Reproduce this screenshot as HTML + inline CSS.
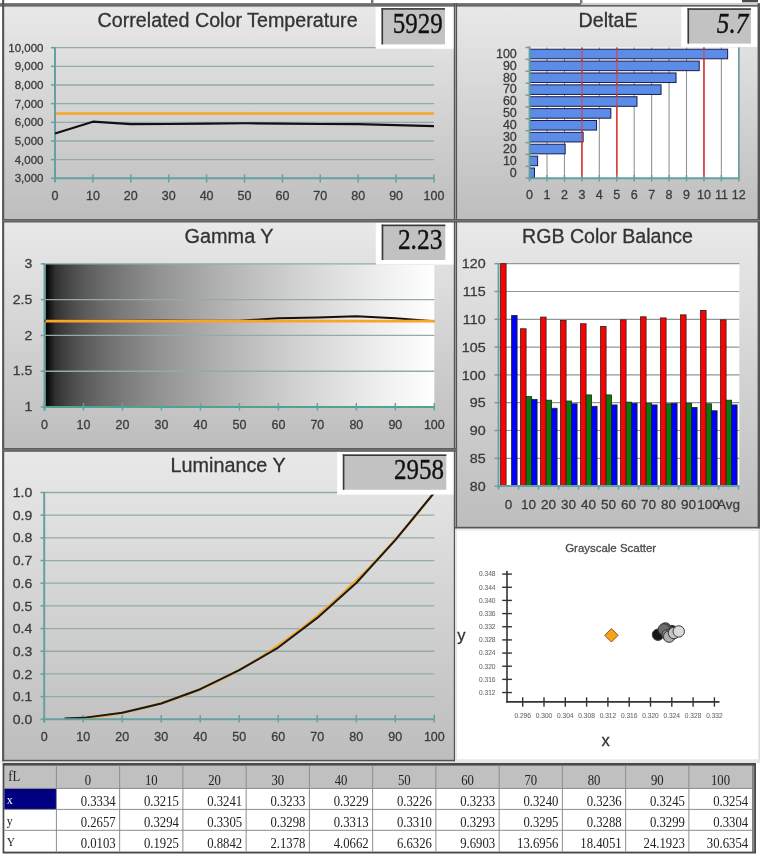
<!DOCTYPE html>
<html><head><meta charset="utf-8"><title>Calibration Charts</title>
<style>html,body{margin:0;padding:0;background:#fff;width:760px;height:858px;overflow:hidden}svg{display:block;filter:blur(0.45px)}</style>
</head><body>
<svg width="760" height="858" viewBox="0 0 760 858"><defs>
<linearGradient id="pg" x1="0" y1="0" x2="0" y2="1"><stop offset="0" stop-color="#e9e9e9"/><stop offset="1" stop-color="#bdbdbd"/></linearGradient>
<linearGradient id="gr" x1="0" y1="0" x2="1" y2="0"><stop offset="0.000" stop-color="rgb(0,0,0)"/><stop offset="0.025" stop-color="rgb(48,48,48)"/><stop offset="0.050" stop-color="rgb(65,65,65)"/><stop offset="0.075" stop-color="rgb(79,79,79)"/><stop offset="0.100" stop-color="rgb(90,90,90)"/><stop offset="0.125" stop-color="rgb(99,99,99)"/><stop offset="0.150" stop-color="rgb(108,108,108)"/><stop offset="0.175" stop-color="rgb(115,115,115)"/><stop offset="0.200" stop-color="rgb(123,123,123)"/><stop offset="0.225" stop-color="rgb(129,129,129)"/><stop offset="0.250" stop-color="rgb(136,136,136)"/><stop offset="0.275" stop-color="rgb(142,142,142)"/><stop offset="0.300" stop-color="rgb(148,148,148)"/><stop offset="0.325" stop-color="rgb(153,153,153)"/><stop offset="0.350" stop-color="rgb(158,158,158)"/><stop offset="0.375" stop-color="rgb(163,163,163)"/><stop offset="0.400" stop-color="rgb(168,168,168)"/><stop offset="0.425" stop-color="rgb(173,173,173)"/><stop offset="0.450" stop-color="rgb(177,177,177)"/><stop offset="0.475" stop-color="rgb(182,182,182)"/><stop offset="0.500" stop-color="rgb(186,186,186)"/><stop offset="0.525" stop-color="rgb(190,190,190)"/><stop offset="0.550" stop-color="rgb(194,194,194)"/><stop offset="0.575" stop-color="rgb(198,198,198)"/><stop offset="0.600" stop-color="rgb(202,202,202)"/><stop offset="0.625" stop-color="rgb(206,206,206)"/><stop offset="0.650" stop-color="rgb(210,210,210)"/><stop offset="0.675" stop-color="rgb(213,213,213)"/><stop offset="0.700" stop-color="rgb(217,217,217)"/><stop offset="0.725" stop-color="rgb(220,220,220)"/><stop offset="0.750" stop-color="rgb(224,224,224)"/><stop offset="0.775" stop-color="rgb(227,227,227)"/><stop offset="0.800" stop-color="rgb(230,230,230)"/><stop offset="0.825" stop-color="rgb(234,234,234)"/><stop offset="0.850" stop-color="rgb(237,237,237)"/><stop offset="0.875" stop-color="rgb(240,240,240)"/><stop offset="0.900" stop-color="rgb(243,243,243)"/><stop offset="0.925" stop-color="rgb(246,246,246)"/><stop offset="0.950" stop-color="rgb(249,249,249)"/><stop offset="0.975" stop-color="rgb(252,252,252)"/><stop offset="1.000" stop-color="rgb(255,255,255)"/></linearGradient>
<clipPath id="lc"><rect x="64.5" y="480" width="380" height="245"/></clipPath>
</defs>
<rect x="0.00" y="0.00" width="760.00" height="858.00" fill="#ffffff" />
<rect x="3.00" y="5.00" width="452.00" height="216.00" fill="url(#pg)" />
<rect x="456.00" y="5.00" width="303.00" height="216.00" fill="url(#pg)" />
<rect x="3.00" y="221.00" width="452.00" height="229.00" fill="url(#pg)" />
<rect x="456.00" y="221.00" width="303.00" height="307.00" fill="url(#pg)" />
<rect x="3.00" y="450.00" width="452.00" height="311.00" fill="url(#pg)" />
<line x1="55.00" y1="159.64" x2="434.00" y2="159.64" stroke="#95aaa7" stroke-width="1.3" />
<line x1="55.00" y1="140.98" x2="434.00" y2="140.98" stroke="#95aaa7" stroke-width="1.3" />
<line x1="55.00" y1="122.32" x2="434.00" y2="122.32" stroke="#95aaa7" stroke-width="1.3" />
<line x1="55.00" y1="103.66" x2="434.00" y2="103.66" stroke="#95aaa7" stroke-width="1.3" />
<line x1="55.00" y1="85.00" x2="434.00" y2="85.00" stroke="#95aaa7" stroke-width="1.3" />
<line x1="55.00" y1="66.34" x2="434.00" y2="66.34" stroke="#95aaa7" stroke-width="1.3" />
<line x1="55.00" y1="47.68" x2="434.00" y2="47.68" stroke="#95aaa7" stroke-width="1.3" />
<line x1="55.00" y1="47.18" x2="55.00" y2="182.00" stroke="#66a0a0" stroke-width="2" />
<line x1="54.00" y1="178.30" x2="434.00" y2="178.30" stroke="#66a0a0" stroke-width="2" />
<line x1="51.00" y1="178.30" x2="55.00" y2="178.30" stroke="#66a0a0" stroke-width="1.5" />
<text x="43.50" y="182.30" font-size="11.5" text-anchor="end" fill="#3c3c3c" font-family="'Liberation Sans', Arial, sans-serif"  stroke="#3c3c3c" stroke-width="0.3">3,000</text>
<line x1="51.00" y1="159.64" x2="55.00" y2="159.64" stroke="#66a0a0" stroke-width="1.5" />
<text x="43.50" y="163.64" font-size="11.5" text-anchor="end" fill="#3c3c3c" font-family="'Liberation Sans', Arial, sans-serif"  stroke="#3c3c3c" stroke-width="0.3">4,000</text>
<line x1="51.00" y1="140.98" x2="55.00" y2="140.98" stroke="#66a0a0" stroke-width="1.5" />
<text x="43.50" y="144.98" font-size="11.5" text-anchor="end" fill="#3c3c3c" font-family="'Liberation Sans', Arial, sans-serif"  stroke="#3c3c3c" stroke-width="0.3">5,000</text>
<line x1="51.00" y1="122.32" x2="55.00" y2="122.32" stroke="#66a0a0" stroke-width="1.5" />
<text x="43.50" y="126.32" font-size="11.5" text-anchor="end" fill="#3c3c3c" font-family="'Liberation Sans', Arial, sans-serif"  stroke="#3c3c3c" stroke-width="0.3">6,000</text>
<line x1="51.00" y1="103.66" x2="55.00" y2="103.66" stroke="#66a0a0" stroke-width="1.5" />
<text x="43.50" y="107.66" font-size="11.5" text-anchor="end" fill="#3c3c3c" font-family="'Liberation Sans', Arial, sans-serif"  stroke="#3c3c3c" stroke-width="0.3">7,000</text>
<line x1="51.00" y1="85.00" x2="55.00" y2="85.00" stroke="#66a0a0" stroke-width="1.5" />
<text x="43.50" y="89.00" font-size="11.5" text-anchor="end" fill="#3c3c3c" font-family="'Liberation Sans', Arial, sans-serif"  stroke="#3c3c3c" stroke-width="0.3">8,000</text>
<line x1="51.00" y1="66.34" x2="55.00" y2="66.34" stroke="#66a0a0" stroke-width="1.5" />
<text x="43.50" y="70.34" font-size="11.5" text-anchor="end" fill="#3c3c3c" font-family="'Liberation Sans', Arial, sans-serif"  stroke="#3c3c3c" stroke-width="0.3">9,000</text>
<line x1="51.00" y1="47.68" x2="55.00" y2="47.68" stroke="#66a0a0" stroke-width="1.5" />
<text x="43.50" y="51.68" font-size="11.5" text-anchor="end" fill="#3c3c3c" font-family="'Liberation Sans', Arial, sans-serif"  stroke="#3c3c3c" stroke-width="0.3">10,000</text>
<line x1="55.00" y1="174.50" x2="55.00" y2="182.50" stroke="#66a0a0" stroke-width="1.5" />
<text transform="translate(55.00,199.60) scale(1.04,1)" font-size="12" text-anchor="middle" fill="#3c3c3c" font-family="'Liberation Sans', Arial, sans-serif"  stroke="#3c3c3c" stroke-width="0.3">0</text>
<line x1="92.90" y1="174.50" x2="92.90" y2="182.50" stroke="#66a0a0" stroke-width="1.5" />
<text transform="translate(92.90,199.60) scale(1.04,1)" font-size="12" text-anchor="middle" fill="#3c3c3c" font-family="'Liberation Sans', Arial, sans-serif"  stroke="#3c3c3c" stroke-width="0.3">10</text>
<line x1="130.80" y1="174.50" x2="130.80" y2="182.50" stroke="#66a0a0" stroke-width="1.5" />
<text transform="translate(130.80,199.60) scale(1.04,1)" font-size="12" text-anchor="middle" fill="#3c3c3c" font-family="'Liberation Sans', Arial, sans-serif"  stroke="#3c3c3c" stroke-width="0.3">20</text>
<line x1="168.70" y1="174.50" x2="168.70" y2="182.50" stroke="#66a0a0" stroke-width="1.5" />
<text transform="translate(168.70,199.60) scale(1.04,1)" font-size="12" text-anchor="middle" fill="#3c3c3c" font-family="'Liberation Sans', Arial, sans-serif"  stroke="#3c3c3c" stroke-width="0.3">30</text>
<line x1="206.60" y1="174.50" x2="206.60" y2="182.50" stroke="#66a0a0" stroke-width="1.5" />
<text transform="translate(206.60,199.60) scale(1.04,1)" font-size="12" text-anchor="middle" fill="#3c3c3c" font-family="'Liberation Sans', Arial, sans-serif"  stroke="#3c3c3c" stroke-width="0.3">40</text>
<line x1="244.50" y1="174.50" x2="244.50" y2="182.50" stroke="#66a0a0" stroke-width="1.5" />
<text transform="translate(244.50,199.60) scale(1.04,1)" font-size="12" text-anchor="middle" fill="#3c3c3c" font-family="'Liberation Sans', Arial, sans-serif"  stroke="#3c3c3c" stroke-width="0.3">50</text>
<line x1="282.40" y1="174.50" x2="282.40" y2="182.50" stroke="#66a0a0" stroke-width="1.5" />
<text transform="translate(282.40,199.60) scale(1.04,1)" font-size="12" text-anchor="middle" fill="#3c3c3c" font-family="'Liberation Sans', Arial, sans-serif"  stroke="#3c3c3c" stroke-width="0.3">60</text>
<line x1="320.30" y1="174.50" x2="320.30" y2="182.50" stroke="#66a0a0" stroke-width="1.5" />
<text transform="translate(320.30,199.60) scale(1.04,1)" font-size="12" text-anchor="middle" fill="#3c3c3c" font-family="'Liberation Sans', Arial, sans-serif"  stroke="#3c3c3c" stroke-width="0.3">70</text>
<line x1="358.20" y1="174.50" x2="358.20" y2="182.50" stroke="#66a0a0" stroke-width="1.5" />
<text transform="translate(358.20,199.60) scale(1.04,1)" font-size="12" text-anchor="middle" fill="#3c3c3c" font-family="'Liberation Sans', Arial, sans-serif"  stroke="#3c3c3c" stroke-width="0.3">80</text>
<line x1="396.10" y1="174.50" x2="396.10" y2="182.50" stroke="#66a0a0" stroke-width="1.5" />
<text transform="translate(396.10,199.60) scale(1.04,1)" font-size="12" text-anchor="middle" fill="#3c3c3c" font-family="'Liberation Sans', Arial, sans-serif"  stroke="#3c3c3c" stroke-width="0.3">90</text>
<line x1="434.00" y1="174.50" x2="434.00" y2="182.50" stroke="#66a0a0" stroke-width="1.5" />
<text transform="translate(434.00,199.60) scale(1.04,1)" font-size="12" text-anchor="middle" fill="#3c3c3c" font-family="'Liberation Sans', Arial, sans-serif"  stroke="#3c3c3c" stroke-width="0.3">100</text>
<line x1="56.00" y1="113.50" x2="434.00" y2="113.50" stroke="#f6a623" stroke-width="2.6" />
<polyline points="55.00,133.57 92.90,121.69 130.80,124.19 168.70,124.00 206.60,123.63 244.50,123.25 282.40,123.63 320.30,124.00 358.20,124.19 396.10,125.12 434.00,126.09" fill="none" stroke="#111" stroke-width="2.2" stroke-linejoin="round"/>
<text x="97.60" y="26.80" font-size="20" text-anchor="start" fill="#333" font-family="'Liberation Sans', Arial, sans-serif" textLength="260" lengthAdjust="spacingAndGlyphs" stroke="#333" stroke-width="0.3">Correlated Color Temperature</text>
<rect x="375.60" y="6.60" width="78.40" height="42.20" fill="#ffffff" />
<rect x="381.50" y="8.10" width="63.50" height="36.30" fill="#c2c2c2" />
<rect x="381.50" y="8.10" width="63.50" height="1.60" fill="#3a3a3a" />
<rect x="381.50" y="8.10" width="1.60" height="36.30" fill="#3a3a3a" />
<text x="442.80" y="32.90" font-size="28.5" text-anchor="end" fill="#111" stroke="#111" stroke-width="0.35" font-family="'Liberation Serif', 'Times New Roman', serif" textLength="50" lengthAdjust="spacingAndGlyphs">5929</text>
<rect x="529.60" y="47.50" width="209.20" height="130.70" fill="#ffffff" />
<line x1="547.03" y1="47.50" x2="547.03" y2="178.20" stroke="#8d9696" stroke-width="1.1" />
<line x1="564.47" y1="47.50" x2="564.47" y2="178.20" stroke="#8d9696" stroke-width="1.1" />
<line x1="599.33" y1="47.50" x2="599.33" y2="178.20" stroke="#8d9696" stroke-width="1.1" />
<line x1="634.20" y1="47.50" x2="634.20" y2="178.20" stroke="#8d9696" stroke-width="1.1" />
<line x1="651.63" y1="47.50" x2="651.63" y2="178.20" stroke="#8d9696" stroke-width="1.1" />
<line x1="669.07" y1="47.50" x2="669.07" y2="178.20" stroke="#8d9696" stroke-width="1.1" />
<line x1="686.50" y1="47.50" x2="686.50" y2="178.20" stroke="#8d9696" stroke-width="1.1" />
<line x1="721.37" y1="47.50" x2="721.37" y2="178.20" stroke="#8d9696" stroke-width="1.1" />
<line x1="738.80" y1="47.50" x2="738.80" y2="178.20" stroke="#8d9696" stroke-width="1.1" />
<line x1="581.90" y1="47.50" x2="581.90" y2="178.20" stroke="#e04040" stroke-width="1.6" />
<line x1="616.77" y1="47.50" x2="616.77" y2="178.20" stroke="#e04040" stroke-width="1.6" />
<line x1="703.93" y1="47.50" x2="703.93" y2="178.20" stroke="#e04040" stroke-width="1.6" />
<rect x="529.60" y="168.02" width="4.88" height="9.58" fill="#5b8de8" stroke="#1c1c4c" stroke-width="1"/>
<rect x="529.60" y="156.14" width="8.02" height="9.58" fill="#5b8de8" stroke="#1c1c4c" stroke-width="1"/>
<rect x="529.60" y="144.25" width="35.56" height="9.58" fill="#5b8de8" stroke="#1c1c4c" stroke-width="1"/>
<rect x="529.60" y="132.37" width="53.52" height="9.58" fill="#5b8de8" stroke="#1c1c4c" stroke-width="1"/>
<rect x="529.60" y="120.49" width="66.94" height="9.58" fill="#5b8de8" stroke="#1c1c4c" stroke-width="1"/>
<rect x="529.60" y="108.61" width="81.24" height="9.58" fill="#5b8de8" stroke="#1c1c4c" stroke-width="1"/>
<rect x="529.60" y="96.73" width="107.39" height="9.58" fill="#5b8de8" stroke="#1c1c4c" stroke-width="1"/>
<rect x="529.60" y="84.85" width="131.45" height="9.58" fill="#5b8de8" stroke="#1c1c4c" stroke-width="1"/>
<rect x="529.60" y="72.96" width="146.44" height="9.58" fill="#5b8de8" stroke="#1c1c4c" stroke-width="1"/>
<rect x="529.60" y="61.08" width="169.63" height="9.58" fill="#5b8de8" stroke="#1c1c4c" stroke-width="1"/>
<rect x="529.60" y="49.20" width="198.04" height="9.58" fill="#5b8de8" stroke="#1c1c4c" stroke-width="1"/>
<line x1="581.90" y1="47.50" x2="581.90" y2="178.20" stroke="#e04040" stroke-width="1.4" stroke-opacity="0.75"/>
<line x1="616.77" y1="47.50" x2="616.77" y2="178.20" stroke="#e04040" stroke-width="1.4" stroke-opacity="0.75"/>
<line x1="703.93" y1="47.50" x2="703.93" y2="178.20" stroke="#e04040" stroke-width="1.4" stroke-opacity="0.75"/>
<line x1="529.60" y1="46.50" x2="529.60" y2="179.20" stroke="#66a0a0" stroke-width="2" />
<line x1="528.60" y1="178.20" x2="739.30" y2="178.20" stroke="#66a0a0" stroke-width="2" />
<line x1="738.80" y1="47.50" x2="738.80" y2="178.20" stroke="#66a0a0" stroke-width="1.5" />
<line x1="525.60" y1="178.20" x2="529.60" y2="178.20" stroke="#66a0a0" stroke-width="1.5" />
<line x1="525.60" y1="166.32" x2="529.60" y2="166.32" stroke="#66a0a0" stroke-width="1.5" />
<line x1="525.60" y1="154.44" x2="529.60" y2="154.44" stroke="#66a0a0" stroke-width="1.5" />
<line x1="525.60" y1="142.55" x2="529.60" y2="142.55" stroke="#66a0a0" stroke-width="1.5" />
<line x1="525.60" y1="130.67" x2="529.60" y2="130.67" stroke="#66a0a0" stroke-width="1.5" />
<line x1="525.60" y1="118.79" x2="529.60" y2="118.79" stroke="#66a0a0" stroke-width="1.5" />
<line x1="525.60" y1="106.91" x2="529.60" y2="106.91" stroke="#66a0a0" stroke-width="1.5" />
<line x1="525.60" y1="95.03" x2="529.60" y2="95.03" stroke="#66a0a0" stroke-width="1.5" />
<line x1="525.60" y1="83.15" x2="529.60" y2="83.15" stroke="#66a0a0" stroke-width="1.5" />
<line x1="525.60" y1="71.26" x2="529.60" y2="71.26" stroke="#66a0a0" stroke-width="1.5" />
<line x1="525.60" y1="59.38" x2="529.60" y2="59.38" stroke="#66a0a0" stroke-width="1.5" />
<line x1="525.60" y1="47.50" x2="529.60" y2="47.50" stroke="#66a0a0" stroke-width="1.5" />
<text x="516.80" y="176.56" font-size="12.5" text-anchor="end" fill="#3c3c3c" font-family="'Liberation Sans', Arial, sans-serif"  stroke="#3c3c3c" stroke-width="0.3">0</text>
<text x="516.80" y="164.68" font-size="12.5" text-anchor="end" fill="#3c3c3c" font-family="'Liberation Sans', Arial, sans-serif"  stroke="#3c3c3c" stroke-width="0.3">10</text>
<text x="516.80" y="152.80" font-size="12.5" text-anchor="end" fill="#3c3c3c" font-family="'Liberation Sans', Arial, sans-serif"  stroke="#3c3c3c" stroke-width="0.3">20</text>
<text x="516.80" y="140.91" font-size="12.5" text-anchor="end" fill="#3c3c3c" font-family="'Liberation Sans', Arial, sans-serif"  stroke="#3c3c3c" stroke-width="0.3">30</text>
<text x="516.80" y="129.03" font-size="12.5" text-anchor="end" fill="#3c3c3c" font-family="'Liberation Sans', Arial, sans-serif"  stroke="#3c3c3c" stroke-width="0.3">40</text>
<text x="516.80" y="117.15" font-size="12.5" text-anchor="end" fill="#3c3c3c" font-family="'Liberation Sans', Arial, sans-serif"  stroke="#3c3c3c" stroke-width="0.3">50</text>
<text x="516.80" y="105.27" font-size="12.5" text-anchor="end" fill="#3c3c3c" font-family="'Liberation Sans', Arial, sans-serif"  stroke="#3c3c3c" stroke-width="0.3">60</text>
<text x="516.80" y="93.39" font-size="12.5" text-anchor="end" fill="#3c3c3c" font-family="'Liberation Sans', Arial, sans-serif"  stroke="#3c3c3c" stroke-width="0.3">70</text>
<text x="516.80" y="81.50" font-size="12.5" text-anchor="end" fill="#3c3c3c" font-family="'Liberation Sans', Arial, sans-serif"  stroke="#3c3c3c" stroke-width="0.3">80</text>
<text x="516.80" y="69.62" font-size="12.5" text-anchor="end" fill="#3c3c3c" font-family="'Liberation Sans', Arial, sans-serif"  stroke="#3c3c3c" stroke-width="0.3">90</text>
<text x="516.80" y="57.74" font-size="12.5" text-anchor="end" fill="#3c3c3c" font-family="'Liberation Sans', Arial, sans-serif"  stroke="#3c3c3c" stroke-width="0.3">100</text>
<line x1="529.60" y1="175.00" x2="529.60" y2="181.50" stroke="#66a0a0" stroke-width="1.5" />
<text x="529.60" y="199.30" font-size="12.5" text-anchor="middle" fill="#3c3c3c" font-family="'Liberation Sans', Arial, sans-serif"  stroke="#3c3c3c" stroke-width="0.3">0</text>
<line x1="547.03" y1="175.00" x2="547.03" y2="181.50" stroke="#66a0a0" stroke-width="1.5" />
<text x="547.03" y="199.30" font-size="12.5" text-anchor="middle" fill="#3c3c3c" font-family="'Liberation Sans', Arial, sans-serif"  stroke="#3c3c3c" stroke-width="0.3">1</text>
<line x1="564.47" y1="175.00" x2="564.47" y2="181.50" stroke="#66a0a0" stroke-width="1.5" />
<text x="564.47" y="199.30" font-size="12.5" text-anchor="middle" fill="#3c3c3c" font-family="'Liberation Sans', Arial, sans-serif"  stroke="#3c3c3c" stroke-width="0.3">2</text>
<line x1="581.90" y1="175.00" x2="581.90" y2="181.50" stroke="#66a0a0" stroke-width="1.5" />
<text x="581.90" y="199.30" font-size="12.5" text-anchor="middle" fill="#3c3c3c" font-family="'Liberation Sans', Arial, sans-serif"  stroke="#3c3c3c" stroke-width="0.3">3</text>
<line x1="599.33" y1="175.00" x2="599.33" y2="181.50" stroke="#66a0a0" stroke-width="1.5" />
<text x="599.33" y="199.30" font-size="12.5" text-anchor="middle" fill="#3c3c3c" font-family="'Liberation Sans', Arial, sans-serif"  stroke="#3c3c3c" stroke-width="0.3">4</text>
<line x1="616.77" y1="175.00" x2="616.77" y2="181.50" stroke="#66a0a0" stroke-width="1.5" />
<text x="616.77" y="199.30" font-size="12.5" text-anchor="middle" fill="#3c3c3c" font-family="'Liberation Sans', Arial, sans-serif"  stroke="#3c3c3c" stroke-width="0.3">5</text>
<line x1="634.20" y1="175.00" x2="634.20" y2="181.50" stroke="#66a0a0" stroke-width="1.5" />
<text x="634.20" y="199.30" font-size="12.5" text-anchor="middle" fill="#3c3c3c" font-family="'Liberation Sans', Arial, sans-serif"  stroke="#3c3c3c" stroke-width="0.3">6</text>
<line x1="651.63" y1="175.00" x2="651.63" y2="181.50" stroke="#66a0a0" stroke-width="1.5" />
<text x="651.63" y="199.30" font-size="12.5" text-anchor="middle" fill="#3c3c3c" font-family="'Liberation Sans', Arial, sans-serif"  stroke="#3c3c3c" stroke-width="0.3">7</text>
<line x1="669.07" y1="175.00" x2="669.07" y2="181.50" stroke="#66a0a0" stroke-width="1.5" />
<text x="669.07" y="199.30" font-size="12.5" text-anchor="middle" fill="#3c3c3c" font-family="'Liberation Sans', Arial, sans-serif"  stroke="#3c3c3c" stroke-width="0.3">8</text>
<line x1="686.50" y1="175.00" x2="686.50" y2="181.50" stroke="#66a0a0" stroke-width="1.5" />
<text x="686.50" y="199.30" font-size="12.5" text-anchor="middle" fill="#3c3c3c" font-family="'Liberation Sans', Arial, sans-serif"  stroke="#3c3c3c" stroke-width="0.3">9</text>
<line x1="703.93" y1="175.00" x2="703.93" y2="181.50" stroke="#66a0a0" stroke-width="1.5" />
<text x="703.93" y="199.30" font-size="12.5" text-anchor="middle" fill="#3c3c3c" font-family="'Liberation Sans', Arial, sans-serif"  stroke="#3c3c3c" stroke-width="0.3">10</text>
<line x1="721.37" y1="175.00" x2="721.37" y2="181.50" stroke="#66a0a0" stroke-width="1.5" />
<text x="721.37" y="199.30" font-size="12.5" text-anchor="middle" fill="#3c3c3c" font-family="'Liberation Sans', Arial, sans-serif"  stroke="#3c3c3c" stroke-width="0.3">11</text>
<line x1="738.80" y1="175.00" x2="738.80" y2="181.50" stroke="#66a0a0" stroke-width="1.5" />
<text x="738.80" y="199.30" font-size="12.5" text-anchor="middle" fill="#3c3c3c" font-family="'Liberation Sans', Arial, sans-serif"  stroke="#3c3c3c" stroke-width="0.3">12</text>
<text x="578.60" y="26.60" font-size="19.5" text-anchor="start" fill="#333" font-family="'Liberation Sans', Arial, sans-serif" textLength="59" lengthAdjust="spacingAndGlyphs" stroke="#333" stroke-width="0.3">DeltaE</text>
<rect x="681.30" y="6.60" width="76.20" height="40.40" fill="#ffffff" />
<rect x="687.50" y="8.30" width="63.40" height="35.30" fill="#c2c2c2" />
<rect x="687.50" y="8.30" width="63.40" height="1.60" fill="#3a3a3a" />
<rect x="687.50" y="8.30" width="1.60" height="35.30" fill="#3a3a3a" />
<text x="748.30" y="32.90" font-size="28.5" text-anchor="end" fill="#111" stroke="#111" stroke-width="0.35" font-family="'Liberation Serif', 'Times New Roman', serif" textLength="31.5" lengthAdjust="spacingAndGlyphs" font-style="italic">5.7</text>
<rect x="45.50" y="263.90" width="388.80" height="143.10" fill="url(#gr)" />
<line x1="44.50" y1="371.23" x2="434.30" y2="371.23" stroke="#95aaa7" stroke-width="1.3" />
<line x1="44.50" y1="335.45" x2="434.30" y2="335.45" stroke="#95aaa7" stroke-width="1.3" />
<line x1="44.50" y1="299.68" x2="434.30" y2="299.68" stroke="#95aaa7" stroke-width="1.3" />
<line x1="44.50" y1="263.90" x2="434.30" y2="263.90" stroke="#95aaa7" stroke-width="1.3" />
<line x1="44.50" y1="263.40" x2="44.50" y2="410.50" stroke="#62a2a0" stroke-width="2" />
<line x1="43.50" y1="407.00" x2="434.30" y2="407.00" stroke="#4fa391" stroke-width="2" />
<line x1="40.80" y1="407.00" x2="44.50" y2="407.00" stroke="#66a0a0" stroke-width="1.5" />
<text transform="translate(32.30,411.20) scale(1.08,1)" font-size="13" text-anchor="end" fill="#3c3c3c" font-family="'Liberation Sans', Arial, sans-serif"  stroke="#3c3c3c" stroke-width="0.3">1</text>
<line x1="40.80" y1="371.23" x2="44.50" y2="371.23" stroke="#66a0a0" stroke-width="1.5" />
<text transform="translate(32.30,375.43) scale(1.08,1)" font-size="13" text-anchor="end" fill="#3c3c3c" font-family="'Liberation Sans', Arial, sans-serif"  stroke="#3c3c3c" stroke-width="0.3">1.5</text>
<line x1="40.80" y1="335.45" x2="44.50" y2="335.45" stroke="#66a0a0" stroke-width="1.5" />
<text transform="translate(32.30,339.65) scale(1.08,1)" font-size="13" text-anchor="end" fill="#3c3c3c" font-family="'Liberation Sans', Arial, sans-serif"  stroke="#3c3c3c" stroke-width="0.3">2</text>
<line x1="40.80" y1="299.68" x2="44.50" y2="299.68" stroke="#66a0a0" stroke-width="1.5" />
<text transform="translate(32.30,303.88) scale(1.08,1)" font-size="13" text-anchor="end" fill="#3c3c3c" font-family="'Liberation Sans', Arial, sans-serif"  stroke="#3c3c3c" stroke-width="0.3">2.5</text>
<line x1="40.80" y1="263.90" x2="44.50" y2="263.90" stroke="#66a0a0" stroke-width="1.5" />
<text transform="translate(32.30,268.10) scale(1.08,1)" font-size="13" text-anchor="end" fill="#3c3c3c" font-family="'Liberation Sans', Arial, sans-serif"  stroke="#3c3c3c" stroke-width="0.3">3</text>
<line x1="44.50" y1="403.00" x2="44.50" y2="410.50" stroke="#66a0a0" stroke-width="1.5" />
<text transform="translate(44.50,428.90) scale(1.04,1)" font-size="12" text-anchor="middle" fill="#3c3c3c" font-family="'Liberation Sans', Arial, sans-serif"  stroke="#3c3c3c" stroke-width="0.3">0</text>
<line x1="83.48" y1="403.00" x2="83.48" y2="410.50" stroke="#66a0a0" stroke-width="1.5" />
<text transform="translate(83.48,428.90) scale(1.04,1)" font-size="12" text-anchor="middle" fill="#3c3c3c" font-family="'Liberation Sans', Arial, sans-serif"  stroke="#3c3c3c" stroke-width="0.3">10</text>
<line x1="122.46" y1="403.00" x2="122.46" y2="410.50" stroke="#66a0a0" stroke-width="1.5" />
<text transform="translate(122.46,428.90) scale(1.04,1)" font-size="12" text-anchor="middle" fill="#3c3c3c" font-family="'Liberation Sans', Arial, sans-serif"  stroke="#3c3c3c" stroke-width="0.3">20</text>
<line x1="161.44" y1="403.00" x2="161.44" y2="410.50" stroke="#66a0a0" stroke-width="1.5" />
<text transform="translate(161.44,428.90) scale(1.04,1)" font-size="12" text-anchor="middle" fill="#3c3c3c" font-family="'Liberation Sans', Arial, sans-serif"  stroke="#3c3c3c" stroke-width="0.3">30</text>
<line x1="200.42" y1="403.00" x2="200.42" y2="410.50" stroke="#66a0a0" stroke-width="1.5" />
<text transform="translate(200.42,428.90) scale(1.04,1)" font-size="12" text-anchor="middle" fill="#3c3c3c" font-family="'Liberation Sans', Arial, sans-serif"  stroke="#3c3c3c" stroke-width="0.3">40</text>
<line x1="239.40" y1="403.00" x2="239.40" y2="410.50" stroke="#66a0a0" stroke-width="1.5" />
<text transform="translate(239.40,428.90) scale(1.04,1)" font-size="12" text-anchor="middle" fill="#3c3c3c" font-family="'Liberation Sans', Arial, sans-serif"  stroke="#3c3c3c" stroke-width="0.3">50</text>
<line x1="278.38" y1="403.00" x2="278.38" y2="410.50" stroke="#66a0a0" stroke-width="1.5" />
<text transform="translate(278.38,428.90) scale(1.04,1)" font-size="12" text-anchor="middle" fill="#3c3c3c" font-family="'Liberation Sans', Arial, sans-serif"  stroke="#3c3c3c" stroke-width="0.3">60</text>
<line x1="317.36" y1="403.00" x2="317.36" y2="410.50" stroke="#66a0a0" stroke-width="1.5" />
<text transform="translate(317.36,428.90) scale(1.04,1)" font-size="12" text-anchor="middle" fill="#3c3c3c" font-family="'Liberation Sans', Arial, sans-serif"  stroke="#3c3c3c" stroke-width="0.3">70</text>
<line x1="356.34" y1="403.00" x2="356.34" y2="410.50" stroke="#66a0a0" stroke-width="1.5" />
<text transform="translate(356.34,428.90) scale(1.04,1)" font-size="12" text-anchor="middle" fill="#3c3c3c" font-family="'Liberation Sans', Arial, sans-serif"  stroke="#3c3c3c" stroke-width="0.3">80</text>
<line x1="395.32" y1="403.00" x2="395.32" y2="410.50" stroke="#66a0a0" stroke-width="1.5" />
<text transform="translate(395.32,428.90) scale(1.04,1)" font-size="12" text-anchor="middle" fill="#3c3c3c" font-family="'Liberation Sans', Arial, sans-serif"  stroke="#3c3c3c" stroke-width="0.3">90</text>
<line x1="434.30" y1="403.00" x2="434.30" y2="410.50" stroke="#66a0a0" stroke-width="1.5" />
<text transform="translate(434.30,428.90) scale(1.04,1)" font-size="12" text-anchor="middle" fill="#3c3c3c" font-family="'Liberation Sans', Arial, sans-serif"  stroke="#3c3c3c" stroke-width="0.3">100</text>
<polyline points="44.50,320.78 83.48,320.78 122.46,320.78 161.44,320.42 200.42,320.78 239.40,320.78 278.38,318.28 317.36,317.56 356.34,316.13 395.32,318.28 434.30,321.14" fill="none" stroke="#111" stroke-width="2" stroke-linejoin="round"/>
<line x1="45.50" y1="321.14" x2="434.30" y2="321.14" stroke="#f6a623" stroke-width="2.6" />
<text x="184.60" y="242.50" font-size="19.5" text-anchor="start" fill="#333" font-family="'Liberation Sans', Arial, sans-serif" textLength="89" lengthAdjust="spacingAndGlyphs" stroke="#333" stroke-width="0.3">Gamma Y</text>
<rect x="375.80" y="222.50" width="78.20" height="42.10" fill="#ffffff" />
<rect x="381.70" y="224.60" width="63.60" height="35.40" fill="#c2c2c2" />
<rect x="381.70" y="224.60" width="63.60" height="1.60" fill="#3a3a3a" />
<rect x="381.70" y="224.60" width="1.60" height="35.40" fill="#3a3a3a" />
<text x="442.40" y="249.20" font-size="28.5" text-anchor="end" fill="#111" stroke="#111" stroke-width="0.35" font-family="'Liberation Serif', 'Times New Roman', serif" textLength="44.5" lengthAdjust="spacingAndGlyphs">2.23</text>
<rect x="498.60" y="263.70" width="240.70" height="222.40" fill="#ffffff" />
<line x1="498.60" y1="458.30" x2="739.30" y2="458.30" stroke="#8e9a99" stroke-width="1.2" />
<line x1="498.60" y1="430.50" x2="739.30" y2="430.50" stroke="#8e9a99" stroke-width="1.2" />
<line x1="498.60" y1="402.70" x2="739.30" y2="402.70" stroke="#8e9a99" stroke-width="1.2" />
<line x1="498.60" y1="374.90" x2="739.30" y2="374.90" stroke="#8e9a99" stroke-width="1.2" />
<line x1="498.60" y1="347.10" x2="739.30" y2="347.10" stroke="#8e9a99" stroke-width="1.2" />
<line x1="498.60" y1="319.30" x2="739.30" y2="319.30" stroke="#8e9a99" stroke-width="1.2" />
<line x1="498.60" y1="291.50" x2="739.30" y2="291.50" stroke="#8e9a99" stroke-width="1.2" />
<line x1="498.60" y1="263.70" x2="739.30" y2="263.70" stroke="#8e9a99" stroke-width="1.2" />
<rect x="500.60" y="263.70" width="5.50" height="222.40" fill="#ff0000" stroke="#222" stroke-width="0.8"/>
<rect x="511.60" y="315.41" width="5.50" height="170.69" fill="#0000ff" stroke="#222" stroke-width="0.8"/>
<rect x="520.60" y="328.75" width="5.50" height="157.35" fill="#ff0000" stroke="#222" stroke-width="0.8"/>
<rect x="526.10" y="396.58" width="5.50" height="89.52" fill="#0a7a0a" stroke="#222" stroke-width="0.8"/>
<rect x="531.60" y="399.36" width="5.50" height="86.74" fill="#0000ff" stroke="#222" stroke-width="0.8"/>
<rect x="540.60" y="317.08" width="5.50" height="169.02" fill="#ff0000" stroke="#222" stroke-width="0.8"/>
<rect x="546.10" y="400.20" width="5.50" height="85.90" fill="#0a7a0a" stroke="#222" stroke-width="0.8"/>
<rect x="551.60" y="408.26" width="5.50" height="77.84" fill="#0000ff" stroke="#222" stroke-width="0.8"/>
<rect x="560.60" y="320.41" width="5.50" height="165.69" fill="#ff0000" stroke="#222" stroke-width="0.8"/>
<rect x="566.10" y="401.03" width="5.50" height="85.07" fill="#0a7a0a" stroke="#222" stroke-width="0.8"/>
<rect x="571.60" y="403.81" width="5.50" height="82.29" fill="#0000ff" stroke="#222" stroke-width="0.8"/>
<rect x="580.60" y="323.75" width="5.50" height="162.35" fill="#ff0000" stroke="#222" stroke-width="0.8"/>
<rect x="586.10" y="394.92" width="5.50" height="91.18" fill="#0a7a0a" stroke="#222" stroke-width="0.8"/>
<rect x="591.60" y="406.31" width="5.50" height="79.79" fill="#0000ff" stroke="#222" stroke-width="0.8"/>
<rect x="600.60" y="326.53" width="5.50" height="159.57" fill="#ff0000" stroke="#222" stroke-width="0.8"/>
<rect x="606.10" y="394.92" width="5.50" height="91.18" fill="#0a7a0a" stroke="#222" stroke-width="0.8"/>
<rect x="611.60" y="404.92" width="5.50" height="81.18" fill="#0000ff" stroke="#222" stroke-width="0.8"/>
<rect x="620.60" y="319.86" width="5.50" height="166.24" fill="#ff0000" stroke="#222" stroke-width="0.8"/>
<rect x="626.10" y="402.14" width="5.50" height="83.96" fill="#0a7a0a" stroke="#222" stroke-width="0.8"/>
<rect x="631.60" y="403.26" width="5.50" height="82.84" fill="#0000ff" stroke="#222" stroke-width="0.8"/>
<rect x="640.60" y="316.80" width="5.50" height="169.30" fill="#ff0000" stroke="#222" stroke-width="0.8"/>
<rect x="646.10" y="403.26" width="5.50" height="82.84" fill="#0a7a0a" stroke="#222" stroke-width="0.8"/>
<rect x="651.60" y="404.92" width="5.50" height="81.18" fill="#0000ff" stroke="#222" stroke-width="0.8"/>
<rect x="660.60" y="317.91" width="5.50" height="168.19" fill="#ff0000" stroke="#222" stroke-width="0.8"/>
<rect x="666.10" y="403.81" width="5.50" height="82.29" fill="#0a7a0a" stroke="#222" stroke-width="0.8"/>
<rect x="671.60" y="403.26" width="5.50" height="82.84" fill="#0000ff" stroke="#222" stroke-width="0.8"/>
<rect x="680.60" y="314.85" width="5.50" height="171.25" fill="#ff0000" stroke="#222" stroke-width="0.8"/>
<rect x="686.10" y="403.26" width="5.50" height="82.84" fill="#0a7a0a" stroke="#222" stroke-width="0.8"/>
<rect x="691.60" y="407.43" width="5.50" height="78.67" fill="#0000ff" stroke="#222" stroke-width="0.8"/>
<rect x="700.60" y="310.40" width="5.50" height="175.70" fill="#ff0000" stroke="#222" stroke-width="0.8"/>
<rect x="706.10" y="403.81" width="5.50" height="82.29" fill="#0a7a0a" stroke="#222" stroke-width="0.8"/>
<rect x="711.60" y="410.76" width="5.50" height="75.34" fill="#0000ff" stroke="#222" stroke-width="0.8"/>
<rect x="720.60" y="319.86" width="5.50" height="166.24" fill="#ff0000" stroke="#222" stroke-width="0.8"/>
<rect x="726.10" y="400.20" width="5.50" height="85.90" fill="#0a7a0a" stroke="#222" stroke-width="0.8"/>
<rect x="731.60" y="404.92" width="5.50" height="81.18" fill="#0000ff" stroke="#222" stroke-width="0.8"/>
<line x1="498.60" y1="263.20" x2="498.60" y2="488.10" stroke="#66a0a0" stroke-width="2" />
<line x1="497.60" y1="486.10" x2="739.30" y2="486.10" stroke="#66a0a0" stroke-width="2" />
<line x1="494.50" y1="486.10" x2="498.60" y2="486.10" stroke="#66a0a0" stroke-width="1.5" />
<text transform="translate(485.60,490.80) scale(1.1,1)" font-size="13" text-anchor="end" fill="#3c3c3c" font-family="'Liberation Sans', Arial, sans-serif"  stroke="#3c3c3c" stroke-width="0.3">80</text>
<line x1="494.50" y1="458.30" x2="498.60" y2="458.30" stroke="#66a0a0" stroke-width="1.5" />
<text transform="translate(485.60,463.00) scale(1.1,1)" font-size="13" text-anchor="end" fill="#3c3c3c" font-family="'Liberation Sans', Arial, sans-serif"  stroke="#3c3c3c" stroke-width="0.3">85</text>
<line x1="494.50" y1="430.50" x2="498.60" y2="430.50" stroke="#66a0a0" stroke-width="1.5" />
<text transform="translate(485.60,435.20) scale(1.1,1)" font-size="13" text-anchor="end" fill="#3c3c3c" font-family="'Liberation Sans', Arial, sans-serif"  stroke="#3c3c3c" stroke-width="0.3">90</text>
<line x1="494.50" y1="402.70" x2="498.60" y2="402.70" stroke="#66a0a0" stroke-width="1.5" />
<text transform="translate(485.60,407.40) scale(1.1,1)" font-size="13" text-anchor="end" fill="#3c3c3c" font-family="'Liberation Sans', Arial, sans-serif"  stroke="#3c3c3c" stroke-width="0.3">95</text>
<line x1="494.50" y1="374.90" x2="498.60" y2="374.90" stroke="#66a0a0" stroke-width="1.5" />
<text transform="translate(485.60,379.60) scale(1.1,1)" font-size="13" text-anchor="end" fill="#3c3c3c" font-family="'Liberation Sans', Arial, sans-serif"  stroke="#3c3c3c" stroke-width="0.3">100</text>
<line x1="494.50" y1="347.10" x2="498.60" y2="347.10" stroke="#66a0a0" stroke-width="1.5" />
<text transform="translate(485.60,351.80) scale(1.1,1)" font-size="13" text-anchor="end" fill="#3c3c3c" font-family="'Liberation Sans', Arial, sans-serif"  stroke="#3c3c3c" stroke-width="0.3">105</text>
<line x1="494.50" y1="319.30" x2="498.60" y2="319.30" stroke="#66a0a0" stroke-width="1.5" />
<text transform="translate(485.60,324.00) scale(1.1,1)" font-size="13" text-anchor="end" fill="#3c3c3c" font-family="'Liberation Sans', Arial, sans-serif"  stroke="#3c3c3c" stroke-width="0.3">110</text>
<line x1="494.50" y1="291.50" x2="498.60" y2="291.50" stroke="#66a0a0" stroke-width="1.5" />
<text transform="translate(485.60,296.20) scale(1.1,1)" font-size="13" text-anchor="end" fill="#3c3c3c" font-family="'Liberation Sans', Arial, sans-serif"  stroke="#3c3c3c" stroke-width="0.3">115</text>
<line x1="494.50" y1="263.70" x2="498.60" y2="263.70" stroke="#66a0a0" stroke-width="1.5" />
<text transform="translate(485.60,268.40) scale(1.1,1)" font-size="13" text-anchor="end" fill="#3c3c3c" font-family="'Liberation Sans', Arial, sans-serif"  stroke="#3c3c3c" stroke-width="0.3">120</text>
<line x1="498.60" y1="486.10" x2="498.60" y2="489.60" stroke="#66a0a0" stroke-width="1.5" />
<line x1="518.60" y1="486.10" x2="518.60" y2="489.60" stroke="#66a0a0" stroke-width="1.5" />
<line x1="538.60" y1="486.10" x2="538.60" y2="489.60" stroke="#66a0a0" stroke-width="1.5" />
<line x1="558.60" y1="486.10" x2="558.60" y2="489.60" stroke="#66a0a0" stroke-width="1.5" />
<line x1="578.60" y1="486.10" x2="578.60" y2="489.60" stroke="#66a0a0" stroke-width="1.5" />
<line x1="598.60" y1="486.10" x2="598.60" y2="489.60" stroke="#66a0a0" stroke-width="1.5" />
<line x1="618.60" y1="486.10" x2="618.60" y2="489.60" stroke="#66a0a0" stroke-width="1.5" />
<line x1="638.60" y1="486.10" x2="638.60" y2="489.60" stroke="#66a0a0" stroke-width="1.5" />
<line x1="658.60" y1="486.10" x2="658.60" y2="489.60" stroke="#66a0a0" stroke-width="1.5" />
<line x1="678.60" y1="486.10" x2="678.60" y2="489.60" stroke="#66a0a0" stroke-width="1.5" />
<line x1="698.60" y1="486.10" x2="698.60" y2="489.60" stroke="#66a0a0" stroke-width="1.5" />
<line x1="718.60" y1="486.10" x2="718.60" y2="489.60" stroke="#66a0a0" stroke-width="1.5" />
<line x1="738.60" y1="486.10" x2="738.60" y2="489.60" stroke="#66a0a0" stroke-width="1.5" />
<text x="508.60" y="509.00" font-size="13.5" text-anchor="middle" fill="#3c3c3c" font-family="'Liberation Sans', Arial, sans-serif"  stroke="#3c3c3c" stroke-width="0.3">0</text>
<text x="528.60" y="509.00" font-size="13.5" text-anchor="middle" fill="#3c3c3c" font-family="'Liberation Sans', Arial, sans-serif"  stroke="#3c3c3c" stroke-width="0.3">10</text>
<text x="548.60" y="509.00" font-size="13.5" text-anchor="middle" fill="#3c3c3c" font-family="'Liberation Sans', Arial, sans-serif"  stroke="#3c3c3c" stroke-width="0.3">20</text>
<text x="568.60" y="509.00" font-size="13.5" text-anchor="middle" fill="#3c3c3c" font-family="'Liberation Sans', Arial, sans-serif"  stroke="#3c3c3c" stroke-width="0.3">30</text>
<text x="588.60" y="509.00" font-size="13.5" text-anchor="middle" fill="#3c3c3c" font-family="'Liberation Sans', Arial, sans-serif"  stroke="#3c3c3c" stroke-width="0.3">40</text>
<text x="608.60" y="509.00" font-size="13.5" text-anchor="middle" fill="#3c3c3c" font-family="'Liberation Sans', Arial, sans-serif"  stroke="#3c3c3c" stroke-width="0.3">50</text>
<text x="628.60" y="509.00" font-size="13.5" text-anchor="middle" fill="#3c3c3c" font-family="'Liberation Sans', Arial, sans-serif"  stroke="#3c3c3c" stroke-width="0.3">60</text>
<text x="648.60" y="509.00" font-size="13.5" text-anchor="middle" fill="#3c3c3c" font-family="'Liberation Sans', Arial, sans-serif"  stroke="#3c3c3c" stroke-width="0.3">70</text>
<text x="668.60" y="509.00" font-size="13.5" text-anchor="middle" fill="#3c3c3c" font-family="'Liberation Sans', Arial, sans-serif"  stroke="#3c3c3c" stroke-width="0.3">80</text>
<text x="688.60" y="509.00" font-size="13.5" text-anchor="middle" fill="#3c3c3c" font-family="'Liberation Sans', Arial, sans-serif"  stroke="#3c3c3c" stroke-width="0.3">90</text>
<text x="708.60" y="509.00" font-size="13.5" text-anchor="middle" fill="#3c3c3c" font-family="'Liberation Sans', Arial, sans-serif"  stroke="#3c3c3c" stroke-width="0.3">100</text>
<text x="728.60" y="509.00" font-size="13.5" text-anchor="middle" fill="#3c3c3c" font-family="'Liberation Sans', Arial, sans-serif"  stroke="#3c3c3c" stroke-width="0.3">Avg</text>
<text x="522.00" y="243.30" font-size="19.5" text-anchor="start" fill="#333" font-family="'Liberation Sans', Arial, sans-serif" textLength="171" lengthAdjust="spacingAndGlyphs" stroke="#333" stroke-width="0.3">RGB Color Balance</text>
<line x1="44.20" y1="696.62" x2="434.30" y2="696.62" stroke="#95aaa7" stroke-width="1.3" />
<line x1="44.20" y1="673.94" x2="434.30" y2="673.94" stroke="#95aaa7" stroke-width="1.3" />
<line x1="44.20" y1="651.26" x2="434.30" y2="651.26" stroke="#95aaa7" stroke-width="1.3" />
<line x1="44.20" y1="628.58" x2="434.30" y2="628.58" stroke="#95aaa7" stroke-width="1.3" />
<line x1="44.20" y1="605.90" x2="434.30" y2="605.90" stroke="#95aaa7" stroke-width="1.3" />
<line x1="44.20" y1="583.22" x2="434.30" y2="583.22" stroke="#95aaa7" stroke-width="1.3" />
<line x1="44.20" y1="560.54" x2="434.30" y2="560.54" stroke="#95aaa7" stroke-width="1.3" />
<line x1="44.20" y1="537.86" x2="434.30" y2="537.86" stroke="#95aaa7" stroke-width="1.3" />
<line x1="44.20" y1="515.18" x2="434.30" y2="515.18" stroke="#95aaa7" stroke-width="1.3" />
<line x1="44.20" y1="492.50" x2="434.30" y2="492.50" stroke="#95aaa7" stroke-width="1.3" />
<line x1="40.50" y1="719.30" x2="44.20" y2="719.30" stroke="#66a0a0" stroke-width="1.5" />
<text transform="translate(32.30,723.90) scale(1.08,1)" font-size="13" text-anchor="end" fill="#3c3c3c" font-family="'Liberation Sans', Arial, sans-serif"  stroke="#3c3c3c" stroke-width="0.3">0.0</text>
<line x1="40.50" y1="696.62" x2="44.20" y2="696.62" stroke="#66a0a0" stroke-width="1.5" />
<text transform="translate(32.30,701.22) scale(1.08,1)" font-size="13" text-anchor="end" fill="#3c3c3c" font-family="'Liberation Sans', Arial, sans-serif"  stroke="#3c3c3c" stroke-width="0.3">0.1</text>
<line x1="40.50" y1="673.94" x2="44.20" y2="673.94" stroke="#66a0a0" stroke-width="1.5" />
<text transform="translate(32.30,678.54) scale(1.08,1)" font-size="13" text-anchor="end" fill="#3c3c3c" font-family="'Liberation Sans', Arial, sans-serif"  stroke="#3c3c3c" stroke-width="0.3">0.2</text>
<line x1="40.50" y1="651.26" x2="44.20" y2="651.26" stroke="#66a0a0" stroke-width="1.5" />
<text transform="translate(32.30,655.86) scale(1.08,1)" font-size="13" text-anchor="end" fill="#3c3c3c" font-family="'Liberation Sans', Arial, sans-serif"  stroke="#3c3c3c" stroke-width="0.3">0.3</text>
<line x1="40.50" y1="628.58" x2="44.20" y2="628.58" stroke="#66a0a0" stroke-width="1.5" />
<text transform="translate(32.30,633.18) scale(1.08,1)" font-size="13" text-anchor="end" fill="#3c3c3c" font-family="'Liberation Sans', Arial, sans-serif"  stroke="#3c3c3c" stroke-width="0.3">0.4</text>
<line x1="40.50" y1="605.90" x2="44.20" y2="605.90" stroke="#66a0a0" stroke-width="1.5" />
<text transform="translate(32.30,610.50) scale(1.08,1)" font-size="13" text-anchor="end" fill="#3c3c3c" font-family="'Liberation Sans', Arial, sans-serif"  stroke="#3c3c3c" stroke-width="0.3">0.5</text>
<line x1="40.50" y1="583.22" x2="44.20" y2="583.22" stroke="#66a0a0" stroke-width="1.5" />
<text transform="translate(32.30,587.82) scale(1.08,1)" font-size="13" text-anchor="end" fill="#3c3c3c" font-family="'Liberation Sans', Arial, sans-serif"  stroke="#3c3c3c" stroke-width="0.3">0.6</text>
<line x1="40.50" y1="560.54" x2="44.20" y2="560.54" stroke="#66a0a0" stroke-width="1.5" />
<text transform="translate(32.30,565.14) scale(1.08,1)" font-size="13" text-anchor="end" fill="#3c3c3c" font-family="'Liberation Sans', Arial, sans-serif"  stroke="#3c3c3c" stroke-width="0.3">0.7</text>
<line x1="40.50" y1="537.86" x2="44.20" y2="537.86" stroke="#66a0a0" stroke-width="1.5" />
<text transform="translate(32.30,542.46) scale(1.08,1)" font-size="13" text-anchor="end" fill="#3c3c3c" font-family="'Liberation Sans', Arial, sans-serif"  stroke="#3c3c3c" stroke-width="0.3">0.8</text>
<line x1="40.50" y1="515.18" x2="44.20" y2="515.18" stroke="#66a0a0" stroke-width="1.5" />
<text transform="translate(32.30,519.78) scale(1.08,1)" font-size="13" text-anchor="end" fill="#3c3c3c" font-family="'Liberation Sans', Arial, sans-serif"  stroke="#3c3c3c" stroke-width="0.3">0.9</text>
<line x1="40.50" y1="492.50" x2="44.20" y2="492.50" stroke="#66a0a0" stroke-width="1.5" />
<text transform="translate(32.30,497.10) scale(1.08,1)" font-size="13" text-anchor="end" fill="#3c3c3c" font-family="'Liberation Sans', Arial, sans-serif"  stroke="#3c3c3c" stroke-width="0.3">1.0</text>
<line x1="44.20" y1="715.00" x2="44.20" y2="722.50" stroke="#66a0a0" stroke-width="1.5" />
<text transform="translate(44.20,741.20) scale(1.04,1)" font-size="12" text-anchor="middle" fill="#3c3c3c" font-family="'Liberation Sans', Arial, sans-serif"  stroke="#3c3c3c" stroke-width="0.3">0</text>
<line x1="83.21" y1="715.00" x2="83.21" y2="722.50" stroke="#66a0a0" stroke-width="1.5" />
<text transform="translate(83.21,741.20) scale(1.04,1)" font-size="12" text-anchor="middle" fill="#3c3c3c" font-family="'Liberation Sans', Arial, sans-serif"  stroke="#3c3c3c" stroke-width="0.3">10</text>
<line x1="122.22" y1="715.00" x2="122.22" y2="722.50" stroke="#66a0a0" stroke-width="1.5" />
<text transform="translate(122.22,741.20) scale(1.04,1)" font-size="12" text-anchor="middle" fill="#3c3c3c" font-family="'Liberation Sans', Arial, sans-serif"  stroke="#3c3c3c" stroke-width="0.3">20</text>
<line x1="161.23" y1="715.00" x2="161.23" y2="722.50" stroke="#66a0a0" stroke-width="1.5" />
<text transform="translate(161.23,741.20) scale(1.04,1)" font-size="12" text-anchor="middle" fill="#3c3c3c" font-family="'Liberation Sans', Arial, sans-serif"  stroke="#3c3c3c" stroke-width="0.3">30</text>
<line x1="200.24" y1="715.00" x2="200.24" y2="722.50" stroke="#66a0a0" stroke-width="1.5" />
<text transform="translate(200.24,741.20) scale(1.04,1)" font-size="12" text-anchor="middle" fill="#3c3c3c" font-family="'Liberation Sans', Arial, sans-serif"  stroke="#3c3c3c" stroke-width="0.3">40</text>
<line x1="239.25" y1="715.00" x2="239.25" y2="722.50" stroke="#66a0a0" stroke-width="1.5" />
<text transform="translate(239.25,741.20) scale(1.04,1)" font-size="12" text-anchor="middle" fill="#3c3c3c" font-family="'Liberation Sans', Arial, sans-serif"  stroke="#3c3c3c" stroke-width="0.3">50</text>
<line x1="278.26" y1="715.00" x2="278.26" y2="722.50" stroke="#66a0a0" stroke-width="1.5" />
<text transform="translate(278.26,741.20) scale(1.04,1)" font-size="12" text-anchor="middle" fill="#3c3c3c" font-family="'Liberation Sans', Arial, sans-serif"  stroke="#3c3c3c" stroke-width="0.3">60</text>
<line x1="317.27" y1="715.00" x2="317.27" y2="722.50" stroke="#66a0a0" stroke-width="1.5" />
<text transform="translate(317.27,741.20) scale(1.04,1)" font-size="12" text-anchor="middle" fill="#3c3c3c" font-family="'Liberation Sans', Arial, sans-serif"  stroke="#3c3c3c" stroke-width="0.3">70</text>
<line x1="356.28" y1="715.00" x2="356.28" y2="722.50" stroke="#66a0a0" stroke-width="1.5" />
<text transform="translate(356.28,741.20) scale(1.04,1)" font-size="12" text-anchor="middle" fill="#3c3c3c" font-family="'Liberation Sans', Arial, sans-serif"  stroke="#3c3c3c" stroke-width="0.3">80</text>
<line x1="395.29" y1="715.00" x2="395.29" y2="722.50" stroke="#66a0a0" stroke-width="1.5" />
<text transform="translate(395.29,741.20) scale(1.04,1)" font-size="12" text-anchor="middle" fill="#3c3c3c" font-family="'Liberation Sans', Arial, sans-serif"  stroke="#3c3c3c" stroke-width="0.3">90</text>
<line x1="434.30" y1="715.00" x2="434.30" y2="722.50" stroke="#66a0a0" stroke-width="1.5" />
<text transform="translate(434.30,741.20) scale(1.04,1)" font-size="12" text-anchor="middle" fill="#3c3c3c" font-family="'Liberation Sans', Arial, sans-serif"  stroke="#3c3c3c" stroke-width="0.3">100</text>
<polyline points="44.20,719.30 52.00,719.26 59.80,719.11 67.61,718.83 75.41,718.42 83.21,717.87 91.01,717.16 98.81,716.30 106.62,715.28 114.42,714.09 122.22,712.72 130.02,711.19 137.82,709.48 145.63,707.59 153.43,705.52 161.23,703.26 169.03,700.81 176.83,698.17 184.64,695.34 192.44,692.31 200.24,689.09 208.04,685.66 215.84,682.04 223.65,678.21 231.45,674.18 239.25,669.94 247.05,665.49 254.85,660.83 262.66,655.96 270.46,650.88 278.26,645.58 286.06,640.07 293.86,634.34 301.67,628.38 309.47,622.21 317.27,615.82 325.07,609.20 332.87,602.36 340.68,595.30 348.48,588.00 356.28,580.48 364.08,572.73 371.88,564.75 379.69,556.54 387.49,548.10 395.29,539.42 403.09,530.51 410.89,521.36 418.70,511.98 426.50,502.36 434.30,492.50" fill="none" stroke="#f6a623" stroke-width="2.4" clip-path="url(#lc)"/>
<polyline points="44.20,719.22 83.21,717.87 122.22,712.75 161.23,703.47 200.24,689.20 239.25,670.20 278.26,647.56 317.27,617.91 356.28,583.04 395.29,540.20 434.30,492.50" fill="none" stroke="#1a1a1a" stroke-width="2" stroke-linejoin="round" clip-path="url(#lc)"/>
<line x1="44.20" y1="492.00" x2="44.20" y2="722.50" stroke="#66a0a0" stroke-width="2" />
<line x1="43.20" y1="719.30" x2="434.30" y2="719.30" stroke="#66a0a0" stroke-width="2" />
<text x="170.60" y="472.10" font-size="19.5" text-anchor="start" fill="#333" font-family="'Liberation Sans', Arial, sans-serif" textLength="115" lengthAdjust="spacingAndGlyphs" stroke="#333" stroke-width="0.3">Luminance Y</text>
<rect x="337.20" y="451.50" width="116.80" height="43.10" fill="#ffffff" />
<rect x="342.80" y="454.40" width="103.50" height="35.40" fill="#c2c2c2" />
<rect x="342.80" y="454.40" width="103.50" height="1.60" fill="#3a3a3a" />
<rect x="342.80" y="454.40" width="1.60" height="35.40" fill="#3a3a3a" />
<text x="444.00" y="478.60" font-size="28.5" text-anchor="end" fill="#111" stroke="#111" stroke-width="0.35" font-family="'Liberation Serif', 'Times New Roman', serif" textLength="50" lengthAdjust="spacingAndGlyphs">2958</text>
<rect x="0.00" y="3.20" width="581.00" height="3.40" fill="#5f5f5f" />
<rect x="581.00" y="3.00" width="179.00" height="2.00" fill="#cfcfcf" />
<rect x="581.00" y="5.00" width="179.00" height="1.60" fill="#5f5f5f" />
<rect x="371.00" y="0.00" width="2.40" height="3.50" fill="#777" />
<rect x="580.00" y="0.00" width="2.40" height="3.50" fill="#777" />
<rect x="742.00" y="0.00" width="16.00" height="2.30" fill="#4a4a4a" />
<rect x="0.00" y="4.50" width="581.00" height="0.90" fill="#7a7a7a" />
<rect x="2.10" y="0.00" width="2.10" height="761.50" fill="#555555" />
<rect x="453.80" y="3.20" width="1.50" height="758.30" fill="#555555" />
<rect x="455.70" y="3.20" width="1.40" height="525.40" fill="#555555" />
<rect x="455.30" y="3.20" width="0.40" height="525.40" fill="#8a8a8a" />
<rect x="757.60" y="3.20" width="2.40" height="525.40" fill="#555555" />
<rect x="2.10" y="219.00" width="455.00" height="3.50" fill="#5e5e5e" />
<rect x="455.00" y="219.00" width="305.00" height="3.50" fill="#5e5e5e" />
<rect x="2.10" y="448.00" width="455.00" height="3.80" fill="#5e5e5e" />
<rect x="455.00" y="526.80" width="305.00" height="1.90" fill="#555555" />
<rect x="2.10" y="759.80" width="453.20" height="1.80" fill="#555555" />
<rect x="2.10" y="220.30" width="758.00" height="0.90" fill="#7c7c7c" />
<rect x="2.10" y="449.50" width="455.00" height="0.90" fill="#7c7c7c" />
<rect x="455.10" y="528.70" width="2.00" height="233.00" fill="#e6e6e6" />
<rect x="457.00" y="528.70" width="303.00" height="2.20" fill="#eeeeee" />
<rect x="758.40" y="530.00" width="1.60" height="233.00" fill="#dcdcdc" />
<rect x="455.00" y="759.30" width="305.00" height="3.80" fill="#e6e6e6" />
<rect x="0.00" y="761.60" width="455.00" height="1.60" fill="#e6e6e6" />
<text x="610.70" y="552.40" font-size="11.5" text-anchor="middle" fill="#4a4a4a" font-family="'Liberation Sans', Arial, sans-serif" textLength="91" lengthAdjust="spacingAndGlyphs" stroke="#4a4a4a" stroke-width="0.3">Grayscale Scatter</text>
<line x1="507.00" y1="570.80" x2="507.00" y2="702.60" stroke="#333" stroke-width="1.6" />
<line x1="506.20" y1="701.90" x2="719.50" y2="701.90" stroke="#333" stroke-width="1.6" />
<line x1="502.20" y1="574.10" x2="511.90" y2="574.10" stroke="#333" stroke-width="1.4" />
<text x="495.50" y="576.40" font-size="6.6" text-anchor="end" fill="#707070" font-family="'Liberation Sans', Arial, sans-serif"  stroke="#707070" stroke-width="0.1">0.348</text>
<line x1="502.20" y1="587.26" x2="511.90" y2="587.26" stroke="#333" stroke-width="1.4" />
<text x="495.50" y="589.56" font-size="6.6" text-anchor="end" fill="#707070" font-family="'Liberation Sans', Arial, sans-serif"  stroke="#707070" stroke-width="0.1">0.344</text>
<line x1="502.20" y1="600.42" x2="511.90" y2="600.42" stroke="#333" stroke-width="1.4" />
<text x="495.50" y="602.72" font-size="6.6" text-anchor="end" fill="#707070" font-family="'Liberation Sans', Arial, sans-serif"  stroke="#707070" stroke-width="0.1">0.340</text>
<line x1="502.20" y1="613.58" x2="511.90" y2="613.58" stroke="#333" stroke-width="1.4" />
<text x="495.50" y="615.88" font-size="6.6" text-anchor="end" fill="#707070" font-family="'Liberation Sans', Arial, sans-serif"  stroke="#707070" stroke-width="0.1">0.336</text>
<line x1="502.20" y1="626.74" x2="511.90" y2="626.74" stroke="#333" stroke-width="1.4" />
<text x="495.50" y="629.04" font-size="6.6" text-anchor="end" fill="#707070" font-family="'Liberation Sans', Arial, sans-serif"  stroke="#707070" stroke-width="0.1">0.332</text>
<line x1="502.20" y1="639.90" x2="511.90" y2="639.90" stroke="#333" stroke-width="1.4" />
<text x="495.50" y="642.20" font-size="6.6" text-anchor="end" fill="#707070" font-family="'Liberation Sans', Arial, sans-serif"  stroke="#707070" stroke-width="0.1">0.328</text>
<line x1="502.20" y1="653.06" x2="511.90" y2="653.06" stroke="#333" stroke-width="1.4" />
<text x="495.50" y="655.36" font-size="6.6" text-anchor="end" fill="#707070" font-family="'Liberation Sans', Arial, sans-serif"  stroke="#707070" stroke-width="0.1">0.324</text>
<line x1="502.20" y1="666.22" x2="511.90" y2="666.22" stroke="#333" stroke-width="1.4" />
<text x="495.50" y="668.52" font-size="6.6" text-anchor="end" fill="#707070" font-family="'Liberation Sans', Arial, sans-serif"  stroke="#707070" stroke-width="0.1">0.320</text>
<line x1="502.20" y1="679.38" x2="511.90" y2="679.38" stroke="#333" stroke-width="1.4" />
<text x="495.50" y="681.68" font-size="6.6" text-anchor="end" fill="#707070" font-family="'Liberation Sans', Arial, sans-serif"  stroke="#707070" stroke-width="0.1">0.316</text>
<line x1="502.20" y1="692.54" x2="511.90" y2="692.54" stroke="#333" stroke-width="1.4" />
<text x="495.50" y="694.84" font-size="6.6" text-anchor="end" fill="#707070" font-family="'Liberation Sans', Arial, sans-serif"  stroke="#707070" stroke-width="0.1">0.312</text>
<line x1="522.70" y1="697.30" x2="522.70" y2="706.70" stroke="#333" stroke-width="1.4" />
<text x="522.70" y="717.60" font-size="6.6" text-anchor="middle" fill="#707070" font-family="'Liberation Sans', Arial, sans-serif"  stroke="#707070" stroke-width="0.1">0.296</text>
<line x1="544.00" y1="697.30" x2="544.00" y2="706.70" stroke="#333" stroke-width="1.4" />
<text x="544.00" y="717.60" font-size="6.6" text-anchor="middle" fill="#707070" font-family="'Liberation Sans', Arial, sans-serif"  stroke="#707070" stroke-width="0.1">0.300</text>
<line x1="565.30" y1="697.30" x2="565.30" y2="706.70" stroke="#333" stroke-width="1.4" />
<text x="565.30" y="717.60" font-size="6.6" text-anchor="middle" fill="#707070" font-family="'Liberation Sans', Arial, sans-serif"  stroke="#707070" stroke-width="0.1">0.304</text>
<line x1="586.60" y1="697.30" x2="586.60" y2="706.70" stroke="#333" stroke-width="1.4" />
<text x="586.60" y="717.60" font-size="6.6" text-anchor="middle" fill="#707070" font-family="'Liberation Sans', Arial, sans-serif"  stroke="#707070" stroke-width="0.1">0.308</text>
<line x1="607.90" y1="697.30" x2="607.90" y2="706.70" stroke="#333" stroke-width="1.4" />
<text x="607.90" y="717.60" font-size="6.6" text-anchor="middle" fill="#707070" font-family="'Liberation Sans', Arial, sans-serif"  stroke="#707070" stroke-width="0.1">0.312</text>
<line x1="629.20" y1="697.30" x2="629.20" y2="706.70" stroke="#333" stroke-width="1.4" />
<text x="629.20" y="717.60" font-size="6.6" text-anchor="middle" fill="#707070" font-family="'Liberation Sans', Arial, sans-serif"  stroke="#707070" stroke-width="0.1">0.316</text>
<line x1="650.50" y1="697.30" x2="650.50" y2="706.70" stroke="#333" stroke-width="1.4" />
<text x="650.50" y="717.60" font-size="6.6" text-anchor="middle" fill="#707070" font-family="'Liberation Sans', Arial, sans-serif"  stroke="#707070" stroke-width="0.1">0.320</text>
<line x1="671.80" y1="697.30" x2="671.80" y2="706.70" stroke="#333" stroke-width="1.4" />
<text x="671.80" y="717.60" font-size="6.6" text-anchor="middle" fill="#707070" font-family="'Liberation Sans', Arial, sans-serif"  stroke="#707070" stroke-width="0.1">0.324</text>
<line x1="693.10" y1="697.30" x2="693.10" y2="706.70" stroke="#333" stroke-width="1.4" />
<text x="693.10" y="717.60" font-size="6.6" text-anchor="middle" fill="#707070" font-family="'Liberation Sans', Arial, sans-serif"  stroke="#707070" stroke-width="0.1">0.328</text>
<line x1="714.40" y1="697.30" x2="714.40" y2="706.70" stroke="#333" stroke-width="1.4" />
<text x="714.40" y="717.60" font-size="6.6" text-anchor="middle" fill="#707070" font-family="'Liberation Sans', Arial, sans-serif"  stroke="#707070" stroke-width="0.1">0.332</text>
<text x="461.40" y="640.50" font-size="16.5" text-anchor="middle" fill="#333" font-family="'Liberation Sans', Arial, sans-serif"  stroke="#333" stroke-width="0.3">y</text>
<text x="605.60" y="746.00" font-size="16.5" text-anchor="middle" fill="#333" font-family="'Liberation Sans', Arial, sans-serif"  stroke="#333" stroke-width="0.3">x</text>
<polygon points="611.4,628.5999999999999 618.1,635.3 611.4,642.0 604.6999999999999,635.3" fill="#f7a21b" stroke="#8a5a10" stroke-width="1"/>
<circle cx="657.99" cy="634.69" r="5.7" fill="rgb(20,20,20)" stroke="#3a3a3a" stroke-width="1"/>
<circle cx="671.83" cy="631.07" r="5.7" fill="rgb(42,42,42)" stroke="#3a3a3a" stroke-width="1"/>
<circle cx="667.57" cy="633.38" r="5.7" fill="rgb(64,64,64)" stroke="#3a3a3a" stroke-width="1"/>
<circle cx="665.44" cy="628.44" r="5.7" fill="rgb(86,86,86)" stroke="#3a3a3a" stroke-width="1"/>
<circle cx="663.85" cy="629.43" r="5.7" fill="rgb(108,108,108)" stroke="#3a3a3a" stroke-width="1"/>
<circle cx="667.57" cy="635.02" r="5.7" fill="rgb(130,130,130)" stroke="#3a3a3a" stroke-width="1"/>
<circle cx="671.30" cy="634.36" r="5.7" fill="rgb(152,152,152)" stroke="#3a3a3a" stroke-width="1"/>
<circle cx="669.17" cy="636.67" r="5.7" fill="rgb(174,174,174)" stroke="#3a3a3a" stroke-width="1"/>
<circle cx="673.96" cy="633.05" r="5.7" fill="rgb(196,196,196)" stroke="#3a3a3a" stroke-width="1"/>
<circle cx="678.76" cy="631.40" r="5.7" fill="rgb(218,218,218)" stroke="#3a3a3a" stroke-width="1"/>
<rect x="2.60" y="763.00" width="753.40" height="90.50" fill="#4a4a4a" />
<rect x="4.30" y="765.60" width="747.90" height="22.80" fill="#c0c0c0" />
<rect x="4.30" y="788.40" width="747.90" height="63.20" fill="#ffffff" />
<rect x="752.20" y="765.60" width="2.10" height="86.00" fill="#8a8a8a" />
<rect x="4.30" y="788.40" width="52.10" height="21.00" fill="#000080" />
<line x1="4.30" y1="809.40" x2="752.20" y2="809.40" stroke="#8c8c8c" stroke-width="1" />
<line x1="4.30" y1="830.30" x2="752.20" y2="830.30" stroke="#8c8c8c" stroke-width="1" />
<line x1="4.30" y1="788.40" x2="752.20" y2="788.40" stroke="#8c8c8c" stroke-width="1" />
<line x1="56.40" y1="765.60" x2="56.40" y2="851.60" stroke="#8c8c8c" stroke-width="1" />
<line x1="119.65" y1="765.60" x2="119.65" y2="851.60" stroke="#8c8c8c" stroke-width="1" />
<line x1="182.90" y1="765.60" x2="182.90" y2="851.60" stroke="#8c8c8c" stroke-width="1" />
<line x1="246.15" y1="765.60" x2="246.15" y2="851.60" stroke="#8c8c8c" stroke-width="1" />
<line x1="309.40" y1="765.60" x2="309.40" y2="851.60" stroke="#8c8c8c" stroke-width="1" />
<line x1="372.65" y1="765.60" x2="372.65" y2="851.60" stroke="#8c8c8c" stroke-width="1" />
<line x1="435.90" y1="765.60" x2="435.90" y2="851.60" stroke="#8c8c8c" stroke-width="1" />
<line x1="499.15" y1="765.60" x2="499.15" y2="851.60" stroke="#8c8c8c" stroke-width="1" />
<line x1="562.40" y1="765.60" x2="562.40" y2="851.60" stroke="#8c8c8c" stroke-width="1" />
<line x1="625.65" y1="765.60" x2="625.65" y2="851.60" stroke="#8c8c8c" stroke-width="1" />
<line x1="688.90" y1="765.60" x2="688.90" y2="851.60" stroke="#8c8c8c" stroke-width="1" />
<text transform="translate(8.30,781.00) scale(0.91,1)" font-size="14" text-anchor="start" fill="#222" font-family="'Liberation Serif', 'Times New Roman', serif" >fL</text>
<text transform="translate(6.80,803.90) scale(0.88,1)" font-size="13.5" text-anchor="start" fill="#ffffff" font-family="'Liberation Serif', 'Times New Roman', serif" >x</text>
<text transform="translate(6.80,824.90) scale(0.88,1)" font-size="13.5" text-anchor="start" fill="#222" font-family="'Liberation Serif', 'Times New Roman', serif" >y</text>
<text transform="translate(6.80,845.70) scale(0.85,1)" font-size="13.5" text-anchor="start" fill="#222" font-family="'Liberation Serif', 'Times New Roman', serif" >Y</text>
<text transform="translate(88.03,784.60) scale(0.91,1)" font-size="14" text-anchor="middle" fill="#222" font-family="'Liberation Serif', 'Times New Roman', serif" >0</text>
<text transform="translate(115.65,806.20) scale(0.91,1)" font-size="14" text-anchor="end" fill="#222" font-family="'Liberation Serif', 'Times New Roman', serif" >0.3334</text>
<text transform="translate(115.65,827.20) scale(0.91,1)" font-size="14" text-anchor="end" fill="#222" font-family="'Liberation Serif', 'Times New Roman', serif" >0.2657</text>
<text transform="translate(115.65,848.20) scale(0.91,1)" font-size="14" text-anchor="end" fill="#222" font-family="'Liberation Serif', 'Times New Roman', serif" >0.0103</text>
<text transform="translate(151.28,784.60) scale(0.91,1)" font-size="14" text-anchor="middle" fill="#222" font-family="'Liberation Serif', 'Times New Roman', serif" >10</text>
<text transform="translate(178.90,806.20) scale(0.91,1)" font-size="14" text-anchor="end" fill="#222" font-family="'Liberation Serif', 'Times New Roman', serif" >0.3215</text>
<text transform="translate(178.90,827.20) scale(0.91,1)" font-size="14" text-anchor="end" fill="#222" font-family="'Liberation Serif', 'Times New Roman', serif" >0.3294</text>
<text transform="translate(178.90,848.20) scale(0.91,1)" font-size="14" text-anchor="end" fill="#222" font-family="'Liberation Serif', 'Times New Roman', serif" >0.1925</text>
<text transform="translate(214.53,784.60) scale(0.91,1)" font-size="14" text-anchor="middle" fill="#222" font-family="'Liberation Serif', 'Times New Roman', serif" >20</text>
<text transform="translate(242.15,806.20) scale(0.91,1)" font-size="14" text-anchor="end" fill="#222" font-family="'Liberation Serif', 'Times New Roman', serif" >0.3241</text>
<text transform="translate(242.15,827.20) scale(0.91,1)" font-size="14" text-anchor="end" fill="#222" font-family="'Liberation Serif', 'Times New Roman', serif" >0.3305</text>
<text transform="translate(242.15,848.20) scale(0.91,1)" font-size="14" text-anchor="end" fill="#222" font-family="'Liberation Serif', 'Times New Roman', serif" >0.8842</text>
<text transform="translate(277.77,784.60) scale(0.91,1)" font-size="14" text-anchor="middle" fill="#222" font-family="'Liberation Serif', 'Times New Roman', serif" >30</text>
<text transform="translate(305.40,806.20) scale(0.91,1)" font-size="14" text-anchor="end" fill="#222" font-family="'Liberation Serif', 'Times New Roman', serif" >0.3233</text>
<text transform="translate(305.40,827.20) scale(0.91,1)" font-size="14" text-anchor="end" fill="#222" font-family="'Liberation Serif', 'Times New Roman', serif" >0.3298</text>
<text transform="translate(305.40,848.20) scale(0.91,1)" font-size="14" text-anchor="end" fill="#222" font-family="'Liberation Serif', 'Times New Roman', serif" >2.1378</text>
<text transform="translate(341.02,784.60) scale(0.91,1)" font-size="14" text-anchor="middle" fill="#222" font-family="'Liberation Serif', 'Times New Roman', serif" >40</text>
<text transform="translate(368.65,806.20) scale(0.91,1)" font-size="14" text-anchor="end" fill="#222" font-family="'Liberation Serif', 'Times New Roman', serif" >0.3229</text>
<text transform="translate(368.65,827.20) scale(0.91,1)" font-size="14" text-anchor="end" fill="#222" font-family="'Liberation Serif', 'Times New Roman', serif" >0.3313</text>
<text transform="translate(368.65,848.20) scale(0.91,1)" font-size="14" text-anchor="end" fill="#222" font-family="'Liberation Serif', 'Times New Roman', serif" >4.0662</text>
<text transform="translate(404.27,784.60) scale(0.91,1)" font-size="14" text-anchor="middle" fill="#222" font-family="'Liberation Serif', 'Times New Roman', serif" >50</text>
<text transform="translate(431.90,806.20) scale(0.91,1)" font-size="14" text-anchor="end" fill="#222" font-family="'Liberation Serif', 'Times New Roman', serif" >0.3226</text>
<text transform="translate(431.90,827.20) scale(0.91,1)" font-size="14" text-anchor="end" fill="#222" font-family="'Liberation Serif', 'Times New Roman', serif" >0.3310</text>
<text transform="translate(431.90,848.20) scale(0.91,1)" font-size="14" text-anchor="end" fill="#222" font-family="'Liberation Serif', 'Times New Roman', serif" >6.6326</text>
<text transform="translate(467.52,784.60) scale(0.91,1)" font-size="14" text-anchor="middle" fill="#222" font-family="'Liberation Serif', 'Times New Roman', serif" >60</text>
<text transform="translate(495.15,806.20) scale(0.91,1)" font-size="14" text-anchor="end" fill="#222" font-family="'Liberation Serif', 'Times New Roman', serif" >0.3233</text>
<text transform="translate(495.15,827.20) scale(0.91,1)" font-size="14" text-anchor="end" fill="#222" font-family="'Liberation Serif', 'Times New Roman', serif" >0.3293</text>
<text transform="translate(495.15,848.20) scale(0.91,1)" font-size="14" text-anchor="end" fill="#222" font-family="'Liberation Serif', 'Times New Roman', serif" >9.6903</text>
<text transform="translate(530.77,784.60) scale(0.91,1)" font-size="14" text-anchor="middle" fill="#222" font-family="'Liberation Serif', 'Times New Roman', serif" >70</text>
<text transform="translate(558.40,806.20) scale(0.91,1)" font-size="14" text-anchor="end" fill="#222" font-family="'Liberation Serif', 'Times New Roman', serif" >0.3240</text>
<text transform="translate(558.40,827.20) scale(0.91,1)" font-size="14" text-anchor="end" fill="#222" font-family="'Liberation Serif', 'Times New Roman', serif" >0.3295</text>
<text transform="translate(558.40,848.20) scale(0.91,1)" font-size="14" text-anchor="end" fill="#222" font-family="'Liberation Serif', 'Times New Roman', serif" >13.6956</text>
<text transform="translate(594.02,784.60) scale(0.91,1)" font-size="14" text-anchor="middle" fill="#222" font-family="'Liberation Serif', 'Times New Roman', serif" >80</text>
<text transform="translate(621.65,806.20) scale(0.91,1)" font-size="14" text-anchor="end" fill="#222" font-family="'Liberation Serif', 'Times New Roman', serif" >0.3236</text>
<text transform="translate(621.65,827.20) scale(0.91,1)" font-size="14" text-anchor="end" fill="#222" font-family="'Liberation Serif', 'Times New Roman', serif" >0.3288</text>
<text transform="translate(621.65,848.20) scale(0.91,1)" font-size="14" text-anchor="end" fill="#222" font-family="'Liberation Serif', 'Times New Roman', serif" >18.4051</text>
<text transform="translate(657.27,784.60) scale(0.91,1)" font-size="14" text-anchor="middle" fill="#222" font-family="'Liberation Serif', 'Times New Roman', serif" >90</text>
<text transform="translate(684.90,806.20) scale(0.91,1)" font-size="14" text-anchor="end" fill="#222" font-family="'Liberation Serif', 'Times New Roman', serif" >0.3245</text>
<text transform="translate(684.90,827.20) scale(0.91,1)" font-size="14" text-anchor="end" fill="#222" font-family="'Liberation Serif', 'Times New Roman', serif" >0.3299</text>
<text transform="translate(684.90,848.20) scale(0.91,1)" font-size="14" text-anchor="end" fill="#222" font-family="'Liberation Serif', 'Times New Roman', serif" >24.1923</text>
<text transform="translate(720.55,784.60) scale(0.91,1)" font-size="14" text-anchor="middle" fill="#222" font-family="'Liberation Serif', 'Times New Roman', serif" >100</text>
<text transform="translate(748.20,806.20) scale(0.91,1)" font-size="14" text-anchor="end" fill="#222" font-family="'Liberation Serif', 'Times New Roman', serif" >0.3254</text>
<text transform="translate(748.20,827.20) scale(0.91,1)" font-size="14" text-anchor="end" fill="#222" font-family="'Liberation Serif', 'Times New Roman', serif" >0.3304</text>
<text transform="translate(748.20,848.20) scale(0.91,1)" font-size="14" text-anchor="end" fill="#222" font-family="'Liberation Serif', 'Times New Roman', serif" >30.6354</text></svg>
</body></html>
